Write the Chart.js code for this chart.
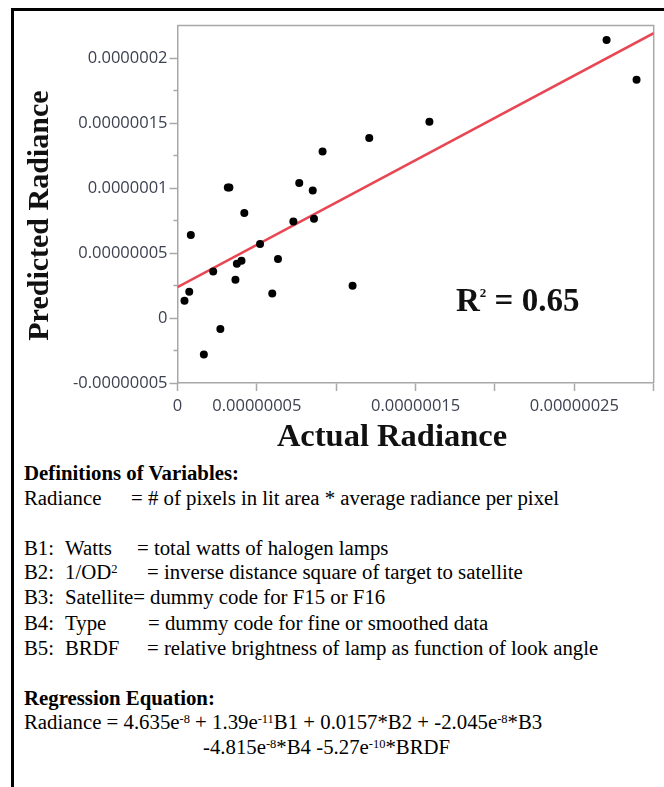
<!DOCTYPE html>
<html><head><meta charset="utf-8">
<script src="https://cdn.jsdelivr.net/npm/chart.js@4"></script>
<style>
html,body{margin:0;padding:0;background:#fff;width:664px;height:787px;overflow:hidden;}
#frame{position:absolute;left:11px;top:8px;width:720px;height:820px;border:3px solid #000;box-sizing:border-box;}
#wrap{position:absolute;left:0;top:0;width:664px;height:460px;}
.t{position:absolute;font-family:"Liberation Serif","Times New Roman",serif;font-size:20.8px;line-height:24px;height:24px;color:#000;white-space:pre;}
.b{font-weight:bold;}
.t sup{font-size:0.6em;vertical-align:0.45em;line-height:0;}
#r2{position:absolute;left:456px;top:280px;font-family:"Liberation Serif","Times New Roman",serif;font-weight:bold;font-size:33px;line-height:40px;color:#111;white-space:pre;}
#r2 sup{font-size:13px;vertical-align:14px;line-height:0;}
</style></head>
<body>
<div id="frame"></div>
<div id="wrap"><canvas id="c" width="664" height="460"></canvas></div>
<div id="r2">R<sup>2</sup> = 0.65</div>

<div class="t b" style="left:24px;top:461px">Definitions of Variables:</div>
<div class="t" style="left:24px;top:486px">Radiance</div>
<div class="t" style="left:131px;top:486px">= # of pixels in lit area * average radiance per pixel</div>

<div class="t" style="left:24px;top:536px">B1:</div>
<div class="t" style="left:65px;top:536px">Watts</div>
<div class="t" style="left:137px;top:536px">= total watts of halogen lamps</div>

<div class="t" style="left:24px;top:560px">B2:</div>
<div class="t" style="left:65px;top:560px">1/OD<sup>2</sup></div>
<div class="t" style="left:147px;top:560px">= inverse distance square of target to satellite</div>

<div class="t" style="left:24px;top:585px">B3:</div>
<div class="t" style="left:65px;top:585px">Satellite= dummy code for F15 or F16</div>

<div class="t" style="left:24px;top:611px">B4:</div>
<div class="t" style="left:65px;top:611px">Type</div>
<div class="t" style="left:148px;top:611px">= dummy code for fine or smoothed data</div>

<div class="t" style="left:24px;top:636px">B5:</div>
<div class="t" style="left:65px;top:636px">BRDF</div>
<div class="t" style="left:147px;top:636px">= relative brightness of lamp as function of look angle</div>

<div class="t b" style="left:24px;top:686px">Regression Equation:</div>
<div class="t" style="left:24px;top:710px">Radiance = 4.635e<sup>-8</sup> + 1.39e<sup>-11</sup>B1 + 0.0157*B2 + -2.045e<sup>-8</sup>*B3</div>
<div class="t" style="left:203px;top:735px">-4.815e<sup>-8</sup>*B4 -5.27e<sup>-10</sup>*BRDF</div>

<script>
// ---- data ----
const actualRadiance = [0.44e-8,0.74e-8,0.84e-8,1.66e-8,2.25e-8,2.70e-8,3.17e-8,3.27e-8,3.65e-8,3.74e-8,4.03e-8,4.21e-8,5.20e-8,5.97e-8,6.33e-8,7.30e-8,7.67e-8,8.52e-8,8.60e-8,9.14e-8,11.03e-8,12.08e-8,15.87e-8,27.03e-8,28.92e-8];
const predictedRadiance = [1.33e-8,2.02e-8,6.38e-8,-2.80e-8,3.58e-8,-0.85e-8,10.05e-8,10.05e-8,2.95e-8,4.18e-8,4.41e-8,8.08e-8,5.69e-8,1.89e-8,4.54e-8,7.43e-8,10.38e-8,9.82e-8,7.64e-8,12.82e-8,2.48e-8,13.85e-8,15.10e-8,21.40e-8,18.33e-8];
const fitX = [0, 3e-7];
const fitY = [2.38e-8, 21.92e-8];
const xTicks = [0,5e-8,1e-7,1.5e-7,2e-7,2.5e-7,3e-7];
const xTickLabels = ['0','0.00000005','','0.00000015','','0.00000025',''];
const yTicks = [-5e-8,0,5e-8,1e-7,1.5e-7,2e-7];
const yTickLabels = ['-0.00000005','0','0.00000005','0.0000001','0.00000015','0.0000002'];
const yMinorTicks = [-2.5e-8,2.5e-8,7.5e-8,1.25e-7,1.75e-7];
const xTitle = 'Actual Radiance';
const yTitle = 'Predicted Radiance';

const AXIS = '#a8a8a8';
const TICKFONT = {family:'"Open Sans", "Noto Sans", sans-serif', size:16.5};
const framePlugin = {
  id:'frame',
  beforeDatasetsDraw(chart){
    const {ctx, chartArea:a, scales:{y}} = chart;
    ctx.save();
    ctx.strokeStyle = AXIS; ctx.lineWidth = 1.5;
    ctx.beginPath();
    ctx.moveTo(a.left, a.top); ctx.lineTo(a.right, a.top); ctx.lineTo(a.right, a.bottom);
    yMinorTicks.forEach(v => { const p = y.getPixelForValue(v); ctx.moveTo(a.left-4, p); ctx.lineTo(a.left, p); });
    ctx.stroke();
    ctx.restore();
  },
  afterDraw(chart){
    const {ctx, chartArea:a} = chart;
    ctx.save();
    ctx.fillStyle = '#111';
    ctx.textAlign = 'center'; ctx.textBaseline = 'middle';
    ctx.font = 'bold 32.5px "Liberation Serif", "Times New Roman", serif';
    ctx.fillText(xTitle, a.left + 214.5, a.bottom + 55);
    ctx.font = 'bold 30px "Liberation Serif", "Times New Roman", serif';
    ctx.translate(40, a.top + 190);
    ctx.rotate(-Math.PI/2);
    ctx.fillText(yTitle, 0, 0);
    ctx.restore();
  }
};

new Chart(document.getElementById('c'), {
  type:'scatter',
  data:{
    datasets:[
      {label:'Radiance', data: actualRadiance.map((x,i)=>({x, y:predictedRadiance[i]})),
       backgroundColor:'#000', borderColor:'#000', pointRadius:4, pointBorderWidth:0, pointHoverRadius:4},
      {type:'line', label:'Fit', data: fitX.map((x,i)=>({x, y:fitY[i]})),
       borderColor:'rgb(232,70,82)', borderWidth:2.5, pointRadius:0, fill:false, tension:0}
    ]
  },
  options:{
    responsive:false, animation:false, devicePixelRatio:1,
    layout:{padding:{left:0, top:25.6, right:10.3, bottom:0}},
    plugins:{legend:{display:false}, tooltip:{enabled:false}},
    scales:{
      x:{type:'linear', position:'bottom', min:0, max:3e-7,
        afterBuildTicks(s){ s.ticks = xTicks.map(v=>({value:v})); },
        afterFit(s){ s.height = 77; },
        grid:{drawOnChartArea:false, tickLength:8, tickColor:AXIS, tickWidth:1.5},
        border:{display:true, color:AXIS, width:1.5},
        ticks:{autoSkip:false, maxRotation:0, minRotation:0, padding:5, color:'#3d4150',
          font:TICKFONT, callback:(v,i)=>xTickLabels[i]}
      },
      y:{type:'linear', min:-5e-8, max:2.25e-7,
        afterBuildTicks(s){ s.ticks = yTicks.map(v=>({value:v})); },
        afterFit(s){ s.width = 177.5; },
        grid:{drawOnChartArea:false, tickLength:8, tickColor:AXIS, tickWidth:1.5},
        border:{display:true, color:AXIS, width:1.5},
        ticks:{padding:2, color:'#3d4150', font:TICKFONT, callback:(v,i)=>yTickLabels[i]}
      }
    }
  },
  plugins:[framePlugin]
});
</script>
</body></html>
